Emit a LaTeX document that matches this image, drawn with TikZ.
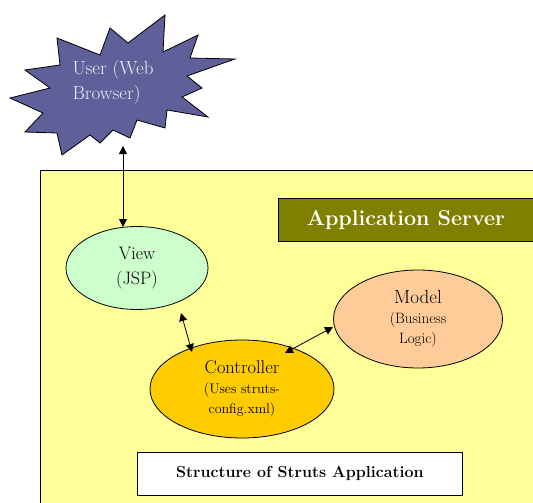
\documentclass[tikz,border=0pt]{standalone}
\usetikzlibrary{arrows.meta,shapes.geometric}
\definecolor{bgyellow}{HTML}{FFFF99}
\definecolor{olivebox}{HTML}{808000}
\definecolor{viewgreen}{HTML}{CCFFCC}
\definecolor{modelpeach}{HTML}{FFCC99}
\definecolor{ctrlgold}{HTML}{FFCC00}
\definecolor{starblue}{HTML}{5F5F99}
\definecolor{startext}{HTML}{EEEEF8}
\tikzset{
  blob/.style={ellipse, draw=black, line width=0.8pt, inner sep=0pt, align=center},
  link/.style={draw=black, line width=0.8pt, {Triangle[length=8pt,width=8pt]}-{Triangle[length=8pt,width=8pt]}},
}
\begin{document}
\begin{tikzpicture}[x=1pt,y=-1pt]
\useasboundingbox (0,0) rectangle (533,503);
% server area
\fill[bgyellow] (40,170) rectangle (540,510);
\draw[line width=0.8pt] (540,170) -- (40,170) -- (40,510);
% user star
\filldraw[fill=starblue, draw=black, line width=0.8pt]
 (57,38)--(100,55)--(110,28)--(128,43)--(165,15)--(163,52)--(198,35)--(190,58)--(235,59)--(187,76)--(202,88)--(182,97)--(208,117)--(167,110)--(165,128)--(137,120)--(130,138)--(113,130)--(100,143)--(90,135)--(62,155)--(57,133)--(25,132)--(43,113)--(10,98)--(50,88)--(25,70)--(60,65)--cycle;
\node[text=startext, font=\fontsize{19}{25}\selectfont, align=left] (user) at (113,82) {User (Web\\Browser)};
\coordinate (userbot) at (123,146);
% application server label
\node[fill=olivebox, draw=black, line width=0.8pt, minimum width=255pt, minimum height=43pt, anchor=north west, text=white, font=\bfseries\fontsize{21.5}{24}\selectfont] (appserver) at (278,198) {Application Server};
% view
\node[blob, fill=viewgreen, minimum width=142pt, minimum height=83pt, font=\fontsize{18}{25}\selectfont] (view) at (137,268) {View\\(JSP)};
% model
\node[blob, fill=modelpeach, minimum width=169pt, minimum height=98pt, font=\fontsize{15}{20}\selectfont] (model) at (418,319) {{\fontsize{19}{20}\selectfont Model}\\(Business\\Logic)};
% controller
\node[blob, fill=ctrlgold, minimum width=184pt, minimum height=98pt, font=\fontsize{14}{20}\selectfont] (ctrl) at (242,389) {{\fontsize{18.5}{20}\selectfont Controller}\\(Uses struts-\\config.xml)};
% caption
\node[fill=white, draw=black, line width=0.8pt, minimum width=325pt, minimum height=43pt, anchor=north west, font=\bfseries\fontsize{16}{18}\selectfont] (caption) at (137,452) {Structure of Struts Application};
% connectors
\coordinate (viewtop) at (123,227);
\coordinate (vcA) at (181,313);
\coordinate (vcB) at (192,352);
\coordinate (cmA) at (285,353);
\coordinate (cmB) at (333,327);
\draw[link] (userbot) -- (viewtop);
\draw[link] (vcA) -- (vcB);
\draw[link] (cmA) -- (cmB);
\end{tikzpicture}
\end{document}
